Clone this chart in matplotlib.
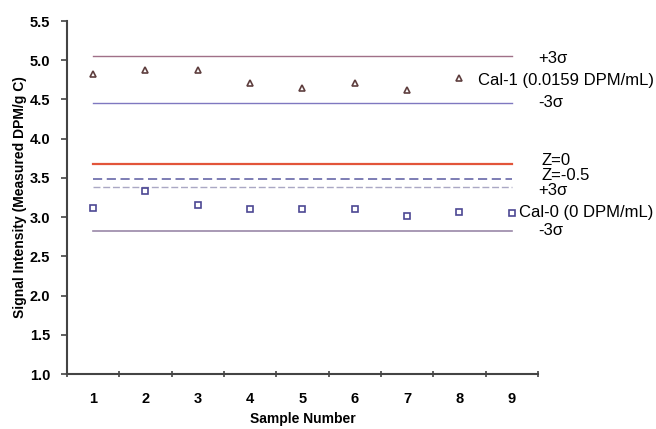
import matplotlib
matplotlib.use('Agg')
import matplotlib.pyplot as plt

plt.rcParams['font.family'] = ['Liberation Sans', 'DejaVu Sans']

# data
samples = [1, 2, 3, 4, 5, 6, 7, 8, 9]
cal1_samples = [1, 2, 3, 4, 5, 6, 7, 8]
cal1 = [4.83, 4.87, 4.87, 4.71, 4.65, 4.71, 4.62, 4.78]
cal0 = [3.12, 3.33, 3.15, 3.10, 3.11, 3.11, 3.02, 3.07, 3.05]

cal1_plus3s = 5.05
cal1_minus3s = 4.46
z0 = 3.68
z_neg05 = 3.49
cal0_plus3s = 3.38
cal0_minus3s = 2.83

xtick_labels = ['1', '2', '3', '4', '5', '6', '7', '8', '9']

fig = plt.figure(figsize=(6.56, 4.29), dpi=100)
ax = fig.add_axes([0.102, 0.128, 0.718, 0.823])

xs = [samples[0], samples[-1]]
ax.plot(xs, [cal1_plus3s] * 2, color='#a07088', lw=1.0)
ax.plot(xs, [cal1_minus3s] * 2, color='#7f78c0', lw=1.0)
ax.plot(xs, [z0] * 2, color='#e2553a', lw=1.6)
ax.plot(xs, [z_neg05] * 2, color='#5a5aa0', lw=1.1, ls=(0, (6, 3)))
ax.plot(xs, [cal0_plus3s] * 2, color='#aaa8c4', lw=1.0, ls=(0, (5, 2)))
ax.plot(xs, [cal0_minus3s] * 2, color='#9a88a8', lw=1.2)

ax.plot(cal1_samples, cal1, ls='none', marker='^', ms=5, mfc='none',
        mec='#5e3e3e', mew=1.2)
ax.plot(samples, cal0, ls='none', marker='s', ms=4.5, mfc='none',
        mec='#4d4894', mew=1.2)

# labels at the right
lab = dict(fontsize=12, va='center', ha='left', clip_on=False)
ax.text(9.50, 5.02, '+3σ', **lab)
ax.text(8.36, 4.74, 'Cal-1 (0.0159 DPM/mL)', **lab)
ax.text(9.50, 4.46, '-3σ', **lab)
ax.text(9.56, 3.72, 'Z=0', **lab)
ax.text(9.56, 3.53, 'Z=-0.5', **lab)
ax.text(9.50, 3.34, '+3σ', **lab)
ax.text(9.13, 3.06, 'Cal-0 (0 DPM/mL)', **lab)
ax.text(9.50, 2.83, '-3σ', **lab)

ax.set_xlim(0.5, 9.5)
ax.set_ylim(1.0, 5.5)
ax.set_yticks([1.0, 1.5, 2.0, 2.5, 3.0, 3.5, 4.0, 4.5, 5.0, 5.5])
ax.set_yticklabels(['%.1f' % v for v in ax.get_yticks()], fontweight='bold')
ax.set_xticks(samples)
ax.set_xticklabels(xtick_labels, fontweight='bold')
ax.set_xticks([k + 0.5 for k in range(0, 10)], minor=True)
ax.tick_params(axis='x', which='major', length=0, labelsize=10.5, pad=13)
ax.tick_params(axis='x', which='minor', length=4, width=1.2, color='#444444',
               direction='inout')
ax.tick_params(axis='y', length=4, width=1.2, color='#444444', labelsize=10.5,
               pad=8)

for s in ['top', 'right']:
    ax.spines[s].set_visible(False)
for s in ['left', 'bottom']:
    ax.spines[s].set_color('#444444')
    ax.spines[s].set_linewidth(1.5)

ax.set_xlabel('Sample Number', fontsize=10, fontweight='bold', va='bottom')
ax.xaxis.set_label_coords(0.5, -0.148)
ax.set_ylabel('Signal Intensity (Measured DPM/g C)', fontsize=10,
              fontweight='bold')
ax.yaxis.set_label_coords(-0.085, 0.5)

fig.savefig('out.png', dpi=100)
